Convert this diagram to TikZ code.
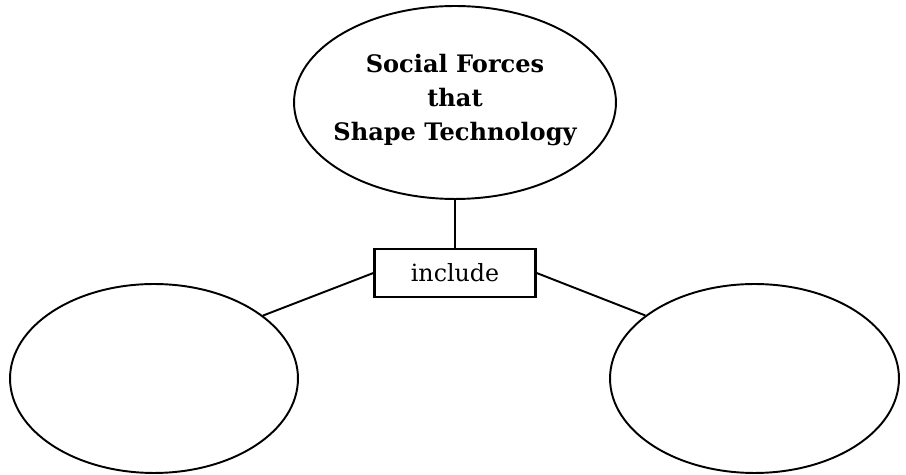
\documentclass[tikz,border=0pt]{standalone}
\usepackage{fontspec}
\setmainfont{DejaVu Serif}
\usetikzlibrary{shapes.geometric}
\tikzset{
	bubble/.style={ellipse, draw, line width=1.1pt, inner sep=0pt},
	linkbox/.style={rectangle, draw, line width=1.3pt, inner sep=0pt, minimum width=3.22cm, minimum height=0.96cm},
	link/.style={line width=1.1pt}
}

\begin{document}
\begin{tikzpicture}[x=0.02cm, y=-0.02cm]
			%%%%% START %%%%%
			
			\useasboundingbox (0, 0) rectangle (906, 475);
			
			\node[bubble, minimum width=6.44cm, minimum height=3.86cm] (forces) at (455, 102.5) {};
			\node[align=center, font=\fontsize{13.7}{19.4}\selectfont\bfseries] (title) at (455, 100) {Social Forces\\that\\Shape Technology};
			
			\node[linkbox, font=\fontsize{13.5}{15}\selectfont] (include) at (455, 273) {include};
			
			\node[bubble, minimum width=5.76cm, minimum height=3.78cm] (left) at (154, 378.5) {};
			\node[bubble, minimum width=5.78cm, minimum height=3.78cm] (right) at (754.5, 378.5) {};
			
			\draw[link] (forces.south) -- (include.north);
			\draw[link] (include.west) -- (left.30);
			\draw[link] (include.east) -- (right.150);
			
			%%%%% END %%%%%
		\end{tikzpicture}
\end{document}
